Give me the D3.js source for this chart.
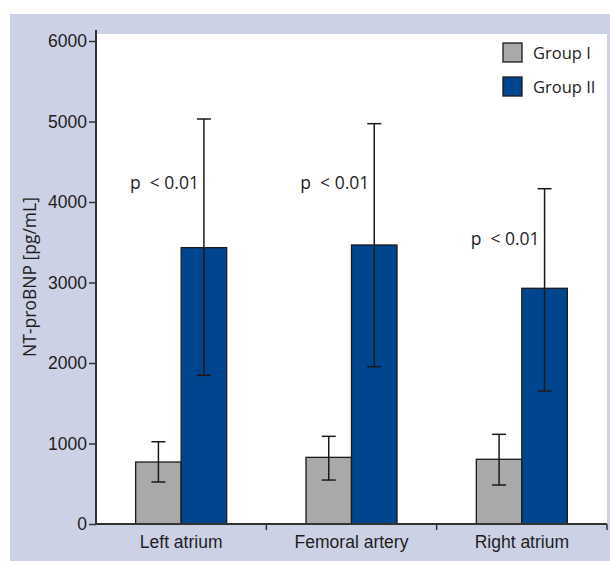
<!DOCTYPE html>
<html>
<head>
<meta charset="utf-8">
<script src="https://cdn.jsdelivr.net/npm/d3@7"></script>
<style>
  body { margin: 0; background: #fff; }
  svg { display: block; font-family: "Open Sans", "Noto Sans", sans-serif; }
</style>
</head>
<body>
<svg width="610" height="561"></svg>
<script>
const svg = d3.select("svg");

// data
const sites = ["Left atrium", "Femoral artery", "Right atrium"];
const groups = ["Group I", "Group II"];
const groupI = [770, 828, 804];
const groupIerrLow = [522, 546, 484];
const groupIerrHigh = [1022, 1089, 1114];
const groupII = [3433, 3466, 2928];
const groupIIerrLow = [1847, 1954, 1652];
const groupIIerrHigh = [5031, 4973, 4165];
const pLabels = ["< 0.01", "< 0.01", "< 0.01"];
const pLabelY = [4165, 4165, 3470];
const yTicks = [0, 1000, 2000, 3000, 4000, 5000, 6000];

const colors = { "Group I": "#a9a9ac", "Group II": "#00468e" };
const ink = "#1e1e1e";
const fs = 17.5;

const rows = [];
sites.forEach((s, i) => {
  rows.push({ site: s, group: "Group I", v: groupI[i], lo: groupIerrLow[i], hi: groupIerrHigh[i] });
  rows.push({ site: s, group: "Group II", v: groupII[i], lo: groupIIerrLow[i], hi: groupIIerrHigh[i] });
});

// panel + plot background
svg.append("rect").attr("x", 10).attr("y", 14).attr("width", 600).attr("height", 547).attr("fill", "#cdd1e5");
svg.append("rect").attr("x", 97).attr("y", 34).attr("width", 510).attr("height", 490).attr("fill", "#fff");

const x = d3.scaleBand().domain(sites).range([96, 607]).padding(0);
const bw = x.bandwidth();
const x1 = d3.scaleBand().domain(groups).range([bw / 2 - 45.5, bw / 2 + 45.5]);
const y = d3.scaleLinear().domain([0, 6000]).range([524, 41]);

// bars
svg.append("g").selectAll("rect")
  .data(rows)
  .join("rect")
  .attr("x", d => x(d.site) + x1(d.group))
  .attr("y", d => y(d.v))
  .attr("width", x1.bandwidth())
  .attr("height", d => y(0) - y(d.v))
  .attr("fill", d => colors[d.group])
  .attr("stroke", "#1a1a1a")
  .attr("stroke-width", 1.3);

// error bars
const err = svg.append("g").attr("stroke", "#1a1a1a").attr("stroke-width", 1.5);
rows.forEach(d => {
  const cx = x(d.site) + x1(d.group) + x1.bandwidth() / 2;
  err.append("line").attr("x1", cx).attr("x2", cx).attr("y1", y(d.hi)).attr("y2", y(d.lo));
  err.append("line").attr("x1", cx - 7).attr("x2", cx + 7).attr("y1", y(d.hi)).attr("y2", y(d.hi));
  err.append("line").attr("x1", cx - 7).attr("x2", cx + 7).attr("y1", y(d.lo)).attr("y2", y(d.lo));
});

// p-value labels
const pText = svg.append("g").selectAll("text")
  .data(sites)
  .join("text")
  .attr("x", (d, i) => x(d) + x1("Group II") + x1.bandwidth() / 2 - 5)
  .attr("y", (d, i) => y(pLabelY[i]))
  .attr("text-anchor", "end")
  .attr("font-size", fs)
  .attr("fill", ink);
pText.append("tspan").text("p");
pText.append("tspan").attr("dx", 9).text((d, i) => pLabels[i]);

// y axis
const yAxis = svg.append("g")
  .attr("transform", "translate(96,0)")
  .call(d3.axisLeft(y).tickValues(yTicks).tickSize(7).tickPadding(2).tickFormat(d3.format("d")));
yAxis.select(".domain").remove();
yAxis.selectAll(".tick line").attr("stroke", "#333").attr("stroke-width", 1.5);
yAxis.selectAll(".tick text").attr("font-size", fs).attr("fill", ink).attr("font-family", null);
svg.append("line").attr("x1", 96).attr("x2", 96).attr("y1", 30).attr("y2", 525)
  .attr("stroke", "#333").attr("stroke-width", 2);

// x axis
const xAxis = svg.append("g")
  .attr("transform", "translate(0,524)")
  .call(d3.axisBottom(x).tickSize(0).tickPadding(12));
xAxis.select(".domain").remove();
xAxis.selectAll(".tick text").attr("font-size", fs).attr("fill", ink).attr("font-family", null);
xAxis.selectAll(".sep")
  .data(sites)
  .join("line")
  .attr("class", "sep")
  .attr("x1", d => x(d) + bw).attr("x2", d => x(d) + bw)
  .attr("y1", 0).attr("y2", 6)
  .attr("stroke", "#333").attr("stroke-width", 1.5);
svg.append("line").attr("x1", 95).attr("x2", 607).attr("y1", 524).attr("y2", 524)
  .attr("stroke", "#333").attr("stroke-width", 2);

// y label
svg.append("text")
  .attr("transform", "translate(36,277) rotate(-90)")
  .attr("text-anchor", "middle")
  .attr("font-size", fs)
  .attr("fill", ink)
  .text("NT-proBNP [pg/mL]");

// legend
const legend = svg.append("g").selectAll("g")
  .data(groups)
  .join("g")
  .attr("transform", (d, i) => `translate(503,${43 + i * 34})`);
legend.append("rect")
  .attr("width", 19).attr("height", 19)
  .attr("fill", d => colors[d])
  .attr("stroke", "#1a1a1a").attr("stroke-width", 1.3);
legend.append("text")
  .attr("x", 30).attr("y", 10).attr("dy", "0.35em")
  .attr("font-size", 16.5)
  .attr("fill", ink)
  .text(d => d);
</script>
</body>
</html>
